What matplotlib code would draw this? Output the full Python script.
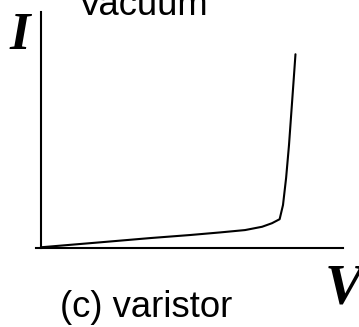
import matplotlib
matplotlib.use("Agg")
import matplotlib.pyplot as plt

# I-V characteristic of a varistor (arbitrary units)
voltage = [0.0, 2.47, 4.55, 6.22, 7.47, 8.51, 9.22, 9.63, 9.95,
           10.09, 10.22, 10.34, 10.44, 10.54, 10.61]
current = [0.03, 0.24, 0.42, 0.55, 0.66, 0.76, 0.90, 1.05, 1.22,
           1.82, 2.97, 4.36, 5.78, 7.20, 8.21]

W, H = 359, 327
fig = plt.figure(figsize=(W / 100, H / 100), dpi=100)
ax = fig.add_axes([36 / W, 79 / H, (343 - 36) / W, (315 - 79) / H])
ax.set_xlim(-0.2, 12.59)
ax.set_ylim(0, 10.0)

ax.plot(voltage, current, color="black", lw=1.5, solid_joinstyle="round",
        solid_capstyle="round", clip_on=False)

for s in ["top", "right"]:
    ax.spines[s].set_visible(False)
ax.spines["left"].set_position(("data", 0))
ax.spines["left"].set_linewidth(1.5)
ax.spines["bottom"].set_linewidth(1.5)
ax.set_xticks([])
ax.set_yticks([])
ax.patch.set_alpha(0)

def fy(py):
    return (H - py) / H

fig.text(10 / W, fy(49), "I", fontfamily="Liberation Serif", fontstyle="italic",
         fontweight="bold", fontsize=38, va="baseline", ha="left")
fig.text(325 / W, fy(303), "V", fontfamily="Liberation Serif", fontstyle="italic",
         fontweight="bold", fontsize=41, va="baseline", ha="left")
fig.text(78 / W, fy(15), "Vacuum", fontfamily="Liberation Sans", fontsize=26.2,
         va="baseline", ha="left")
fig.text(60 / W, fy(317), "(c) varistor", fontfamily="Liberation Sans", fontsize=26.3,
         va="baseline", ha="left")

fig.savefig("out.png", dpi=100)
